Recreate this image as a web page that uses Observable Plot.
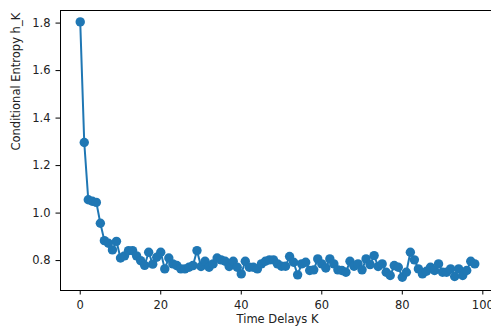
<!DOCTYPE html>
<html>
<head>
<meta charset="utf-8">
<script src="https://cdn.jsdelivr.net/npm/d3@7"></script>
<script src="https://cdn.jsdelivr.net/npm/@observablehq/plot@0.6"></script>
<style>
  html, body { margin: 0; padding: 0; background: #fff; overflow: hidden; width: 491px; height: 332px; }
  #chart svg { display: block; font-family: "DejaVu Sans", sans-serif; max-width: none !important; }
</style>
</head>
<body>
<div id="chart"></div>
<script>
// Conditional entropy h_K for time delays K = 0..98
const hK = [
  1.805, 1.297, 1.056, 1.050, 1.045, 0.957, 0.884, 0.873, 0.845, 0.881,
  0.811, 0.820, 0.842, 0.842, 0.820, 0.800, 0.780, 0.835, 0.785, 0.814,
  0.835, 0.765, 0.811, 0.786, 0.779, 0.765, 0.765, 0.772, 0.779, 0.842,
  0.775, 0.797, 0.772, 0.786, 0.811, 0.803, 0.797, 0.775, 0.797, 0.772,
  0.744, 0.797, 0.772, 0.772, 0.765, 0.786, 0.797, 0.803, 0.803, 0.786,
  0.776, 0.776, 0.817, 0.793, 0.740, 0.786, 0.793, 0.758, 0.761, 0.807,
  0.786, 0.769, 0.807, 0.786, 0.761, 0.758, 0.751, 0.797, 0.776, 0.786,
  0.761, 0.807, 0.783, 0.821, 0.775, 0.786, 0.751, 0.737, 0.779, 0.772,
  0.730, 0.751, 0.835, 0.803, 0.765, 0.744, 0.755, 0.772, 0.758, 0.786,
  0.751, 0.751, 0.765, 0.733, 0.765, 0.737, 0.758, 0.797, 0.786
];
const xTicks = [0, 20, 40, 60, 80, 100];
const yTicks = [0.8, 1.0, 1.2, 1.4, 1.6, 1.8];
const xLabel = "Time Delays K";
const yLabel = "Conditional Entropy h_K";

const data = hK.map((h, k) => ({k, h}));
const blue = "#1f77b4";
const ink = "#222";

const chart = Plot.plot({
  width: 494,
  height: 332,
  marginLeft: 60,
  marginTop: 10,
  marginBottom: 42,
  marginRight: 0,
  style: {background: "#fff", color: ink, fontFamily: "DejaVu Sans, sans-serif", maxWidth: "none"},
  x: {domain: [-4.9, 102.9]},
  y: {domain: [0.674, 1.853]},
  marks: [
    Plot.frame({stroke: "#000", strokeWidth: 1}),
    Plot.axisX(xTicks, {tickSize: 4.5, tickPadding: 5.5, fontSize: 11.5, label: null, stroke: "#000", fill: ink, tickFormat: d => String(d)}),
    Plot.axisY(yTicks, {tickSize: 4.5, tickPadding: 5.5, fontSize: 11.5, label: null, stroke: "#000", fill: ink, tickFormat: d3.format(".1f")}),
    Plot.text([xLabel], {frameAnchor: "bottom", dy: 32, fontSize: 11.5, fill: ink}),
    Plot.text([yLabel], {frameAnchor: "left", dx: -44, rotate: -90, fontSize: 11.5, fill: ink}),
    Plot.line(data, {x: "k", y: "h", stroke: blue, strokeWidth: 2}),
    Plot.dot(data, {x: "k", y: "h", r: 4.7, fill: blue, stroke: "none"})
  ]
});
document.getElementById("chart").appendChild(chart);
</script>
</body>
</html>
